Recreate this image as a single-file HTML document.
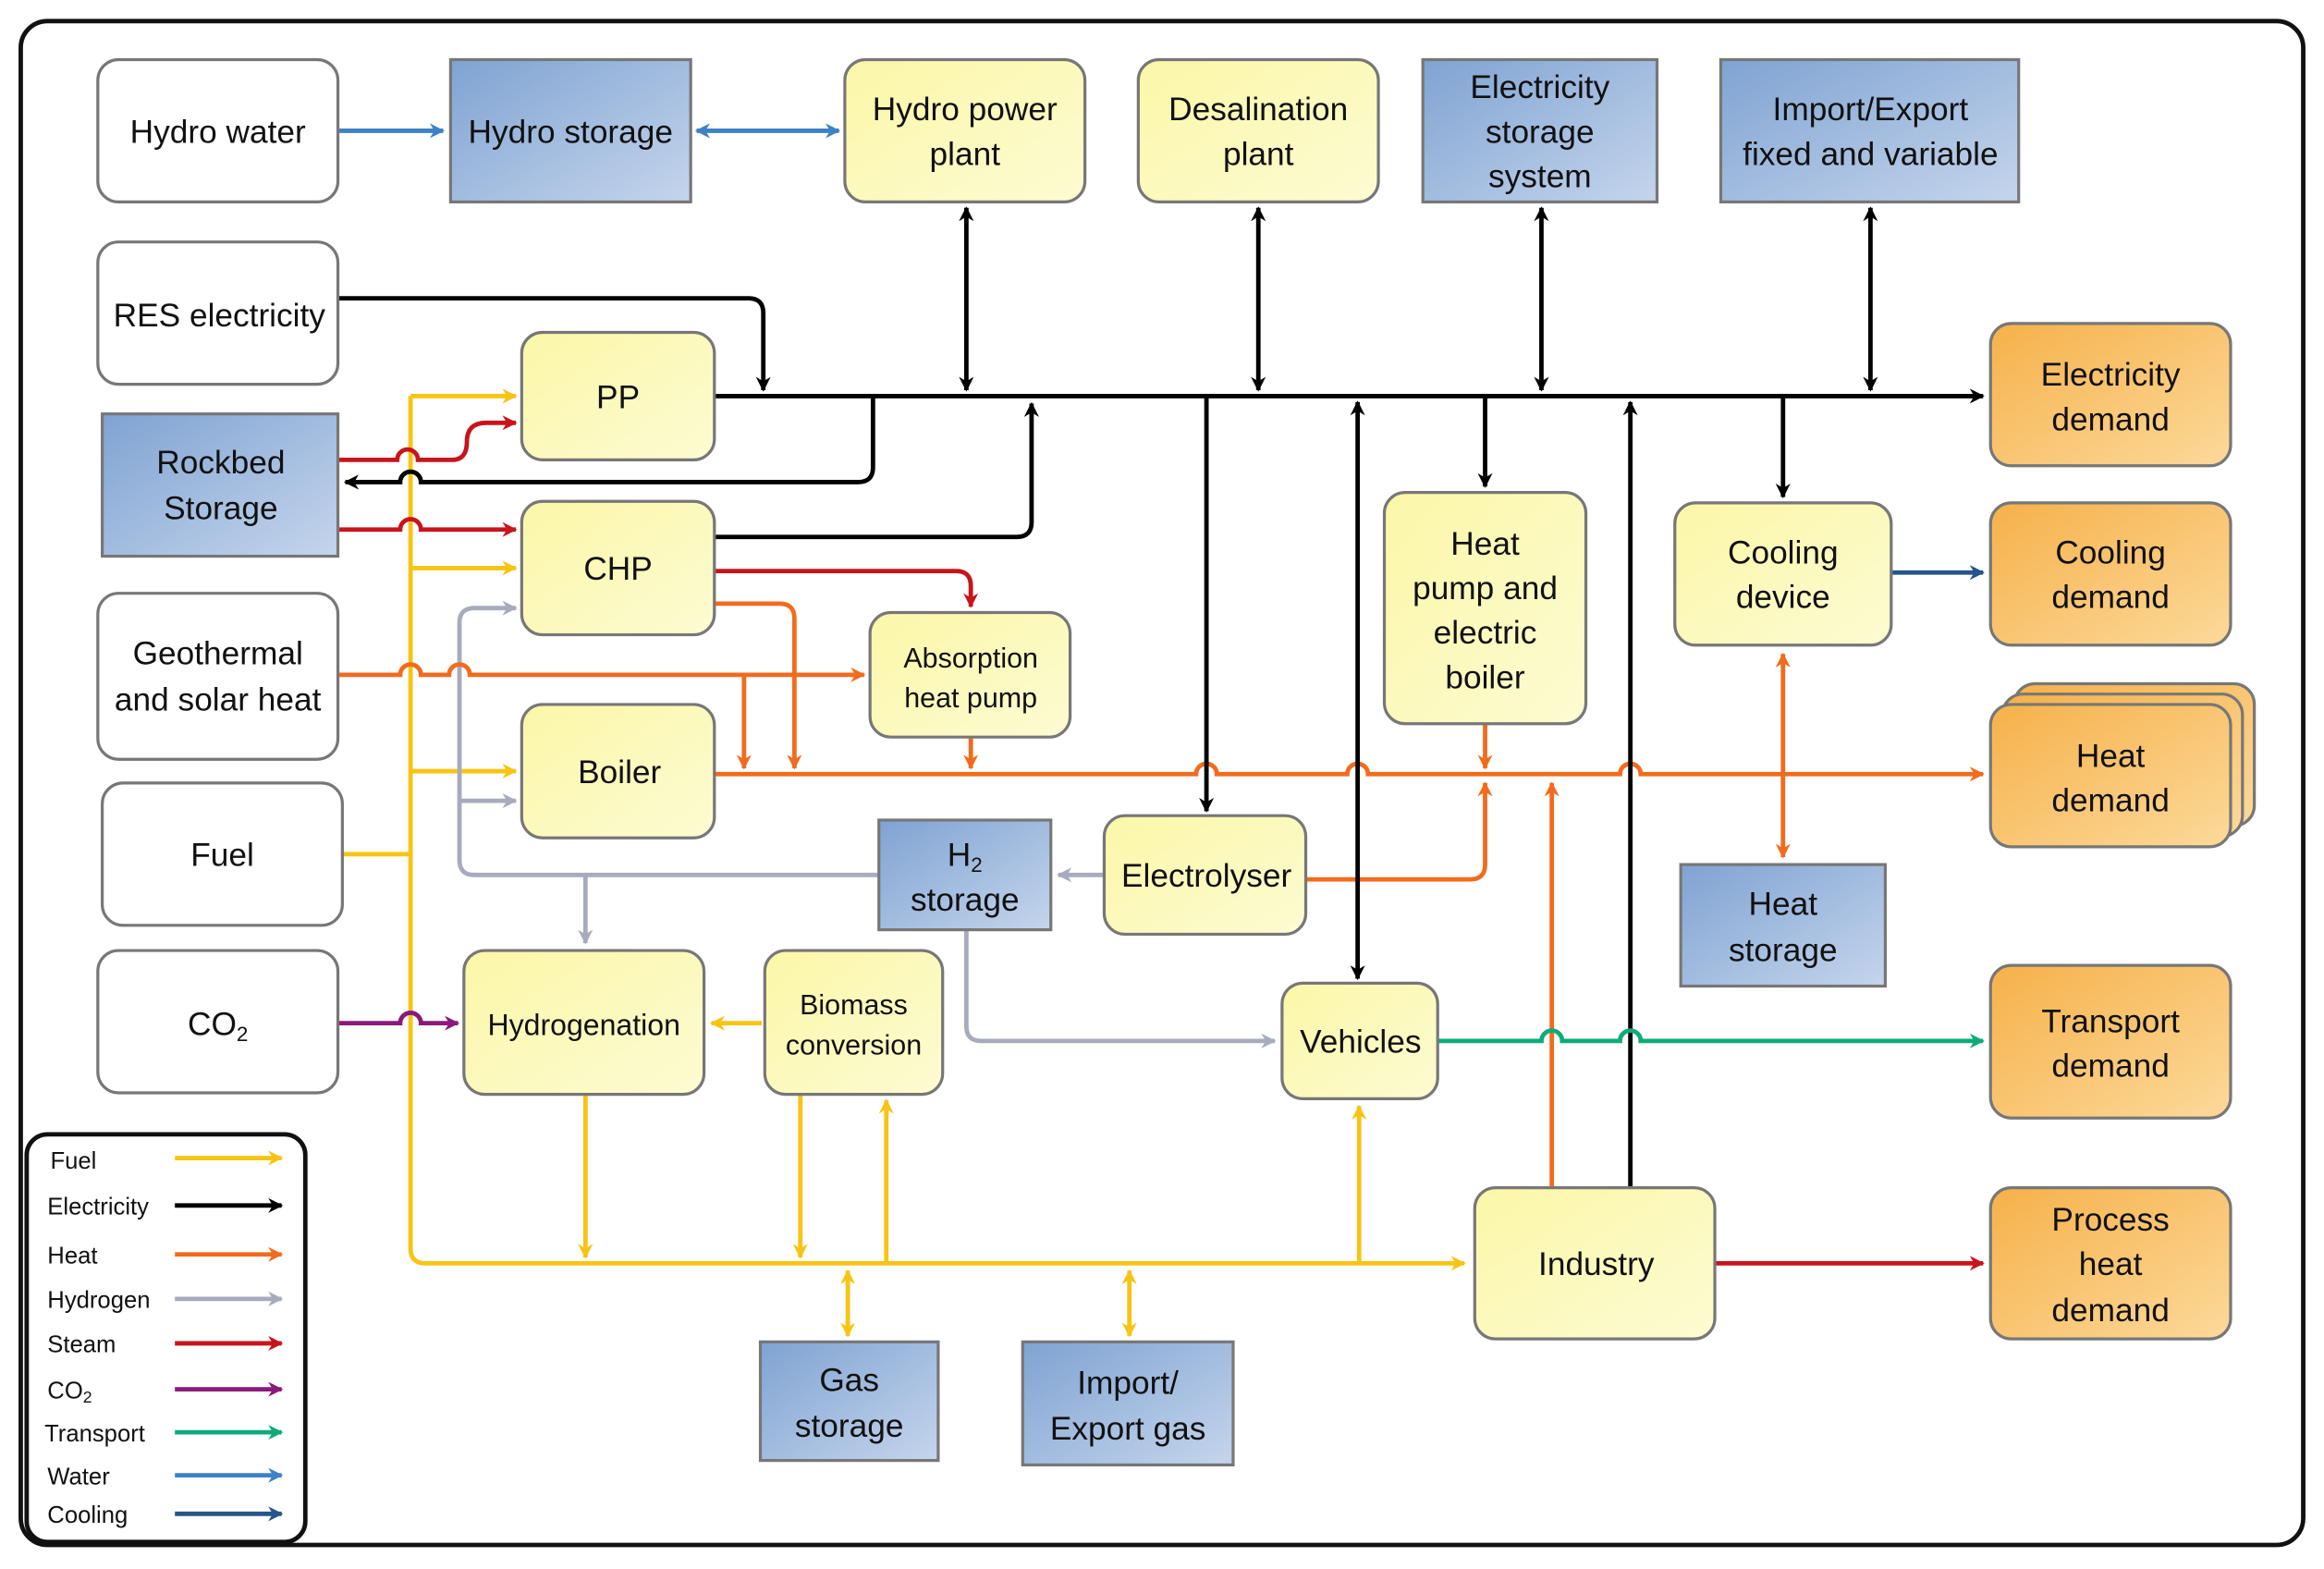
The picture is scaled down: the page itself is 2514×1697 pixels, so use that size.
<!DOCTYPE html>
<html><head><meta charset="utf-8"><style>
html,body{margin:0;padding:0;background:#fff}
svg{display:block}
text{font-family:"Liberation Sans",sans-serif;font-size:22px;fill:#111;text-anchor:middle}
.lg{font-size:16px;text-anchor:start}
</style></head><body>
<svg width="2514" height="1697" viewBox="0 0 1568 1058" xmlns="http://www.w3.org/2000/svg">
<defs>
<linearGradient id="gy" x1="0" y1="0" x2="1" y2="1"><stop offset="0" stop-color="#fbf7a8"/><stop offset="1" stop-color="#fdfbd2"/></linearGradient>
<linearGradient id="gb" x1="0" y1="0" x2="1" y2="1"><stop offset="0" stop-color="#7fa3d2"/><stop offset="1" stop-color="#c5d5ec"/></linearGradient>
<linearGradient id="go" x1="0" y1="0" x2="1" y2="1"><stop offset="0" stop-color="#f6b14a"/><stop offset="1" stop-color="#fcd99a"/></linearGradient>
<marker id="mk" markerWidth="10" markerHeight="10" refX="9" refY="5" orient="auto-start-reverse" markerUnits="userSpaceOnUse"><path d="M0,0 L10,5 L0,10 L3,5z" fill="#000"/></marker>
<marker id="mo" markerWidth="10" markerHeight="10" refX="9" refY="5" orient="auto-start-reverse" markerUnits="userSpaceOnUse"><path d="M0,0 L10,5 L0,10 L3,5z" fill="#f26b1d"/></marker>
<marker id="my" markerWidth="10" markerHeight="10" refX="9" refY="5" orient="auto-start-reverse" markerUnits="userSpaceOnUse"><path d="M0,0 L10,5 L0,10 L3,5z" fill="#f8c414"/></marker>
<marker id="mg" markerWidth="10" markerHeight="10" refX="9" refY="5" orient="auto-start-reverse" markerUnits="userSpaceOnUse"><path d="M0,0 L10,5 L0,10 L3,5z" fill="#a7abbd"/></marker>
<marker id="mr" markerWidth="10" markerHeight="10" refX="9" refY="5" orient="auto-start-reverse" markerUnits="userSpaceOnUse"><path d="M0,0 L10,5 L0,10 L3,5z" fill="#c8141c"/></marker>
<marker id="mp" markerWidth="10" markerHeight="10" refX="9" refY="5" orient="auto-start-reverse" markerUnits="userSpaceOnUse"><path d="M0,0 L10,5 L0,10 L3,5z" fill="#8a1a7a"/></marker>
<marker id="mt" markerWidth="10" markerHeight="10" refX="9" refY="5" orient="auto-start-reverse" markerUnits="userSpaceOnUse"><path d="M0,0 L10,5 L0,10 L3,5z" fill="#0faa7a"/></marker>
<marker id="mw" markerWidth="10" markerHeight="10" refX="9" refY="5" orient="auto-start-reverse" markerUnits="userSpaceOnUse"><path d="M0,0 L10,5 L0,10 L3,5z" fill="#3d82c6"/></marker>
<marker id="mc" markerWidth="10" markerHeight="10" refX="9" refY="5" orient="auto-start-reverse" markerUnits="userSpaceOnUse"><path d="M0,0 L10,5 L0,10 L3,5z" fill="#25558a"/></marker>
</defs>
<rect x="14" y="14" width="1540" height="1028" rx="18" fill="#fff" stroke="#111" stroke-width="3"/>

<g fill="none" stroke-width="3">
<!-- fuel yellow -->
<g stroke="#f8c414">
<path d="M231,576 H277"/>
<path d="M277,267 V842 Q277,852 287,852 H988" marker-end="url(#my)"/>
<path d="M277,267 H348" marker-end="url(#my)"/>
<path d="M277,383 H348" marker-end="url(#my)"/>
<path d="M277,520 H348" marker-end="url(#my)"/>
<path d="M395,738 V848" marker-end="url(#my)"/>
<path d="M540,738 V848" marker-end="url(#my)"/>
<path d="M598,852 V742" marker-end="url(#my)"/>
<path d="M572,857 V901" marker-start="url(#my)" marker-end="url(#my)"/>
<path d="M762,857 V901" marker-start="url(#my)" marker-end="url(#my)"/>
<path d="M917,852 V746" marker-end="url(#my)"/>
<path d="M514,690 H480" marker-end="url(#my)"/>
</g>
<!-- hydrogen gray -->
<g stroke="#a7abbd">
<path d="M593,590 H320 Q310,590 310,580 V420 Q310,410 320,410 H348" marker-end="url(#mg)"/>
<path d="M310,540 H348" marker-end="url(#mg)"/>
<path d="M395,590 V636" marker-end="url(#mg)"/>
<path d="M745,590 H714" marker-end="url(#mg)"/>
<path d="M652,627 V692 Q652,702 662,702 H860" marker-end="url(#mg)"/>
</g>
<!-- heat orange -->
<g stroke="#f26b1d">
<path d="M228,455 H270 a7,7 0 0 1 14,0 H303 a7,7 0 0 1 14,0 H583" marker-end="url(#mo)"/>
<path d="M502,455 V518" marker-end="url(#mo)"/>
<path d="M482,407 H526 Q536,407 536,417 V518" marker-end="url(#mo)"/>
<path d="M655,497 V518" marker-end="url(#mo)"/>
<path d="M482,522 H807 a7,7 0 0 1 14,0 H909 a7,7 0 0 1 14,0 H1093 a7,7 0 0 1 14,0 H1338" marker-end="url(#mo)"/>
<path d="M881,593 H992 Q1002,593 1002,583 V528" marker-end="url(#mo)"/>
<path d="M1002,488 V518" marker-end="url(#mo)"/>
<path d="M1047,800 V528" marker-end="url(#mo)"/>
<path d="M1203,441 V578" marker-start="url(#mo)" marker-end="url(#mo)"/>
</g>
<!-- steam red -->
<g stroke="#c8141c">
<path d="M228,310 H268 a7,7 0 0 1 14,0 H305 Q315,310 315,298 Q315,285 328,285 H348" marker-end="url(#mr)"/>
<path d="M228,357 H270 a7,7 0 0 1 14,0 H348" marker-end="url(#mr)"/>
<path d="M482,385 H645 Q655,385 655,395 V409" marker-end="url(#mr)"/>
<path d="M1157,852 H1338" marker-end="url(#mr)"/>
</g>
<!-- electricity black -->
<g stroke="#000">
<path d="M482,267 H1338" marker-end="url(#mk)"/>
<path d="M228,201 H505 Q515,201 515,211 V263" marker-end="url(#mk)"/>
<path d="M589,267 V315 Q589,325 579,325 H284 a7,7 0 0 0 -14,0 H233" marker-end="url(#mk)"/>
<path d="M482,362 H686 Q696,362 696,352 V272" marker-end="url(#mk)"/>
<path d="M652,140 V263" marker-start="url(#mk)" marker-end="url(#mk)"/>
<path d="M849,140 V263" marker-start="url(#mk)" marker-end="url(#mk)"/>
<path d="M1040,140 V263" marker-start="url(#mk)" marker-end="url(#mk)"/>
<path d="M1262,140 V263" marker-start="url(#mk)" marker-end="url(#mk)"/>
<path d="M814,267 V547" marker-end="url(#mk)"/>
<path d="M916,271 V660" marker-start="url(#mk)" marker-end="url(#mk)"/>
<path d="M1002,267 V328" marker-end="url(#mk)"/>
<path d="M1100,800 V271" marker-end="url(#mk)"/>
<path d="M1203,267 V335" marker-end="url(#mk)"/>
</g>
<path d="M228,690 H270 a7,7 0 0 1 14,0 H309" stroke="#8a1a7a" marker-end="url(#mp)"/>
<path d="M970,702 H1040 a7,7 0 0 1 14,0 H1093 a7,7 0 0 1 14,0 H1338" stroke="#0faa7a" marker-end="url(#mt)"/>
<path d="M228,88 H299" stroke="#3d82c6" marker-end="url(#mw)"/>
<path d="M470,88 H566" stroke="#3d82c6" marker-start="url(#mw)" marker-end="url(#mw)"/>
<path d="M1276,386 H1338" stroke="#25558a" marker-end="url(#mc)"/>
</g>

<g stroke="#777" stroke-width="2">
<!-- white -->
<rect x="66" y="40" width="162" height="96" rx="14" fill="#fff"/>
<rect x="66" y="163" width="162" height="96" rx="14" fill="#fff"/>
<rect x="66" y="400" width="162" height="112" rx="14" fill="#fff"/>
<rect x="69" y="528" width="162" height="96" rx="14" fill="#fff"/>
<rect x="66" y="641" width="162" height="96" rx="14" fill="#fff"/>
<!-- blue -->
<rect x="304" y="40" width="162" height="96" fill="url(#gb)"/>
<rect x="960" y="40" width="158" height="96" fill="url(#gb)"/>
<rect x="1161" y="40" width="201" height="96" fill="url(#gb)"/>
<rect x="69" y="279" width="159" height="96" fill="url(#gb)"/>
<rect x="593" y="553" width="116" height="74" fill="url(#gb)"/>
<rect x="1134" y="583" width="138" height="82" fill="url(#gb)"/>
<rect x="513" y="905" width="120" height="80" fill="url(#gb)"/>
<rect x="690" y="905" width="142" height="83" fill="url(#gb)"/>
<!-- yellow -->
<rect x="570" y="40" width="162" height="96" rx="14" fill="url(#gy)"/>
<rect x="768" y="40" width="162" height="96" rx="14" fill="url(#gy)"/>
<rect x="352" y="224" width="130" height="86" rx="14" fill="url(#gy)"/>
<rect x="352" y="338" width="130" height="90" rx="14" fill="url(#gy)"/>
<rect x="587" y="413" width="135" height="84" rx="14" fill="url(#gy)"/>
<rect x="352" y="475" width="130" height="90" rx="14" fill="url(#gy)"/>
<rect x="745" y="550" width="136" height="80" rx="14" fill="url(#gy)"/>
<rect x="313" y="641" width="162" height="97" rx="14" fill="url(#gy)"/>
<rect x="516" y="641" width="120" height="97" rx="14" fill="url(#gy)"/>
<rect x="865" y="663" width="105" height="78" rx="14" fill="url(#gy)"/>
<rect x="934" y="332" width="136" height="156" rx="14" fill="url(#gy)"/>
<rect x="1130" y="339" width="146" height="96" rx="14" fill="url(#gy)"/>
<rect x="995" y="801" width="162" height="102" rx="14" fill="url(#gy)"/>
<!-- orange -->
<rect x="1343" y="218" width="162" height="96" rx="14" fill="url(#go)"/>
<rect x="1343" y="339" width="162" height="96" rx="14" fill="url(#go)"/>
<rect x="1359" y="461" width="162" height="96" rx="14" fill="url(#go)"/>
<rect x="1351" y="468" width="162" height="96" rx="14" fill="url(#go)"/>
<rect x="1343" y="475" width="162" height="96" rx="14" fill="url(#go)"/>
<rect x="1343" y="651" width="162" height="103" rx="14" fill="url(#go)"/>
<rect x="1343" y="801" width="162" height="102" rx="14" fill="url(#go)"/>
</g>

<text x="147" y="96">Hydro water</text>
<text x="385" y="96">Hydro storage</text>
<text x="651" y="81">Hydro power</text><text x="651" y="111">plant</text>
<text x="849" y="81">Desalination</text><text x="849" y="111">plant</text>
<text x="1039" y="66">Electricity</text><text x="1039" y="96">storage</text><text x="1039" y="126">system</text>
<text x="1262" y="81">Import/Export</text><text x="1262" y="111">fixed and variable</text>
<text x="148" y="220">RES electricity</text>
<text x="417" y="275">PP</text>
<text x="149" y="319">Rockbed</text><text x="149" y="350">Storage</text>
<text x="417" y="391">CHP</text>
<text x="147" y="448">Geothermal</text><text x="147" y="479">and solar heat</text>
<text x="655" y="450" style="font-size:19px">Absorption</text><text x="655" y="477" style="font-size:19px">heat pump</text>
<text x="418" y="528">Boiler</text>
<text x="150" y="584">Fuel</text>
<text x="651" y="584">H<tspan style="font-size:14px" dy="4">2</tspan></text><text x="651" y="614">storage</text>
<text x="814" y="598">Electrolyser</text>
<text x="147" y="698">CO<tspan style="font-size:14px" dy="4">2</tspan></text>
<text x="394" y="698" style="font-size:20px">Hydrogenation</text>
<text x="576" y="684" style="font-size:19px">Biomass</text><text x="576" y="711" style="font-size:19px">conversion</text>
<text x="918" y="710">Vehicles</text>
<text x="1002" y="374">Heat</text><text x="1002" y="404">pump and</text><text x="1002" y="434">electric</text><text x="1002" y="464">boiler</text>
<text x="1203" y="380">Cooling</text><text x="1203" y="410">device</text>
<text x="1203" y="617">Heat</text><text x="1203" y="648">storage</text>
<text x="1077" y="860">Industry</text>
<text x="573" y="938">Gas</text><text x="573" y="969">storage</text>
<text x="761" y="940">Import/</text><text x="761" y="971">Export gas</text>
<text x="1424" y="260">Electricity</text><text x="1424" y="290">demand</text>
<text x="1424" y="380">Cooling</text><text x="1424" y="410">demand</text>
<text x="1424" y="517">Heat</text><text x="1424" y="547">demand</text>
<text x="1424" y="696">Transport</text><text x="1424" y="726">demand</text>
<text x="1424" y="830">Process</text><text x="1424" y="860">heat</text><text x="1424" y="891">demand</text>

<!-- legend -->
<rect x="18" y="765" width="188" height="275" rx="14" fill="#fff" stroke="#111" stroke-width="3"/>
<g fill="none" stroke-width="3">
<path d="M118,781 H190" stroke="#f8c414" marker-end="url(#my)"/>
<path d="M118,813 H190" stroke="#000" marker-end="url(#mk)"/>
<path d="M118,846 H190" stroke="#f26b1d" marker-end="url(#mo)"/>
<path d="M118,876 H190" stroke="#a7abbd" marker-end="url(#mg)"/>
<path d="M118,906 H190" stroke="#c8141c" marker-end="url(#mr)"/>
<path d="M118,937 H190" stroke="#8a1a7a" marker-end="url(#mp)"/>
<path d="M118,966 H190" stroke="#0faa7a" marker-end="url(#mt)"/>
<path d="M118,995 H190" stroke="#3d82c6" marker-end="url(#mw)"/>
<path d="M118,1021 H190" stroke="#25558a" marker-end="url(#mc)"/>
</g>
<text class="lg" x="34" y="788">Fuel</text>
<text class="lg" x="32" y="819">Electricity</text>
<text class="lg" x="32" y="852">Heat</text>
<text class="lg" x="32" y="882">Hydrogen</text>
<text class="lg" x="32" y="912">Steam</text>
<text class="lg" x="32" y="943">CO<tspan style="font-size:11px" dy="3">2</tspan></text>
<text class="lg" x="30" y="972">Transport</text>
<text class="lg" x="32" y="1001">Water</text>
<text class="lg" x="32" y="1027">Cooling</text>
</svg>
</body></html>
